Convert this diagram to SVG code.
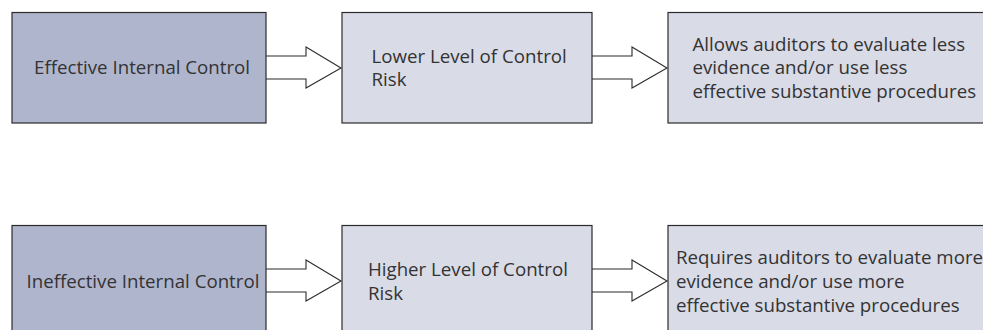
<svg xmlns="http://www.w3.org/2000/svg" width="983" height="330" viewBox="0 0 983 330">
  <style>
    .box { stroke: #2b2b2b; stroke-width: 1.2; }
    .dark { fill: #b0b5ce; }
    .light { fill: #d9dbe7; }
    .arrow { fill: #ffffff; stroke: #2b2b2b; stroke-width: 1.1; stroke-linejoin: miter; }
    text { font-family: "Open Sans", "Liberation Sans", sans-serif; font-size: 18.7px; fill: #333333; }
  </style>
  <defs>
    <!-- hollow block arrow, shaft starts at x=0, centred on y=0 -->
    <path id="blockArrow" d="M0,-12 H40 V-21 L75,0 L40,20 V11 H0"/>
  </defs>

  <rect width="983" height="330" fill="#ffffff"/>

  <g id="connectors">
    <use href="#blockArrow" class="arrow" x="266" y="68"/>
    <use href="#blockArrow" class="arrow" x="592" y="68"/>
    <use href="#blockArrow" class="arrow" x="266" y="281"/>
    <use href="#blockArrow" class="arrow" x="592" y="281"/>
  </g>

  <g id="effective-control">
    <rect class="box dark" x="12" y="12.5" width="254" height="110.5"/>
    <text x="34" y="74">Effective Internal Control</text>
  </g>
  <g id="lower-risk">
    <rect class="box light" x="342" y="12.5" width="250" height="110.5"/>
    <text x="371.5" y="62.5">Lower Level of Control</text>
    <text x="371.5" y="86">Risk</text>
  </g>
  <g id="less-evidence">
    <rect class="box light" x="668" y="12.5" width="330" height="110.5"/>
    <text x="692.5" y="50.5">Allows auditors to evaluate less</text>
    <text x="692.5" y="74">evidence and/or use less</text>
    <text x="692.5" y="98">effective substantive procedures</text>
  </g>

  <g id="ineffective-control">
    <rect class="box dark" x="12" y="225.5" width="254" height="110.5"/>
    <text x="26.5" y="287.5">Ineffective Internal Control</text>
  </g>
  <g id="higher-risk">
    <rect class="box light" x="342" y="225.5" width="250" height="110.5"/>
    <text x="368" y="276">Higher Level of Control</text>
    <text x="368" y="299.5">Risk</text>
  </g>
  <g id="more-evidence">
    <rect class="box light" x="668" y="225.5" width="330" height="110.5"/>
    <text x="676" y="264">Requires auditors to evaluate more</text>
    <text x="676" y="288">evidence and/or use more</text>
    <text x="676" y="311.5">effective substantive procedures</text>
  </g>
</svg>
